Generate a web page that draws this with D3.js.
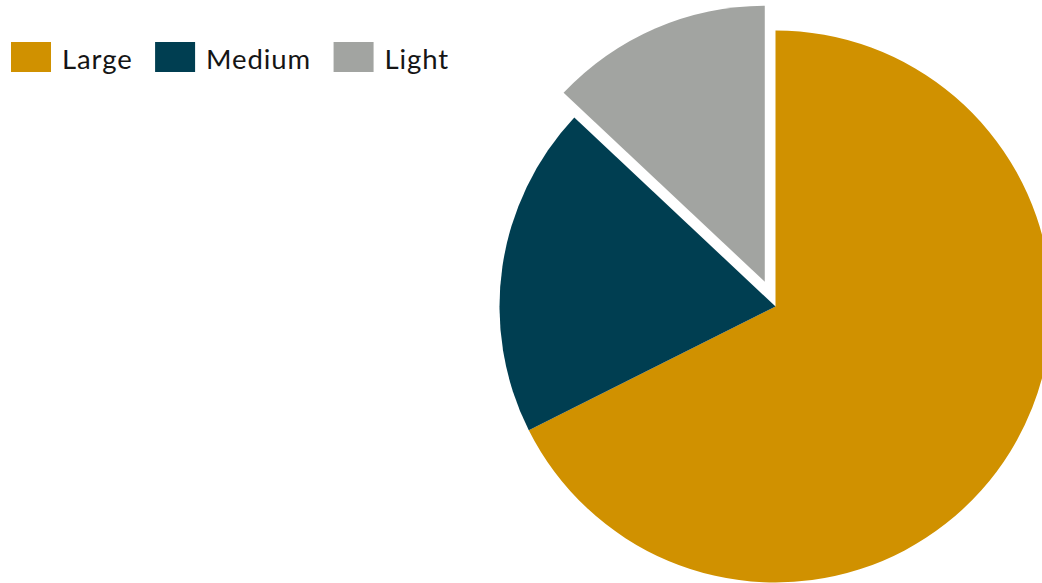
<!DOCTYPE html>
<html>
<head>
<meta charset="utf-8">
<script src="https://cdn.jsdelivr.net/npm/d3@7"></script>
<style>
  body { margin: 0; background: #fff; }
  svg { display: block; }
</style>
</head>
<body>
<div id="chart"></div>
<script>
// data
const categories = ["Large", "Medium", "Light"];
const shares = [67.6, 19.4, 13.0];
const colors = ["#D09100", "#003E51", "#A2A4A1"];
const exploded = [false, false, true];

const w = 1042, h = 583;
const cx = 775.5, cy = 306.5;
const outerRadius = 276;
const explodeBy = 27;

const svg = d3.select("#chart")
    .append("svg")
    .attr("width", w)
    .attr("height", h);

const data = categories.map((c, i) => ({ label: c, value: shares[i], color: colors[i], explode: exploded[i] }));

const pie = d3.pie().value(d => d.value).sort(null);
const arc = d3.arc().innerRadius(0).outerRadius(outerRadius);

svg.append("g")
    .attr("transform", "translate(" + cx + "," + cy + ")")
    .selectAll("path")
    .data(pie(data))
    .enter()
    .append("path")
    .attr("d", arc)
    .attr("fill", d => d.data.color)
    .attr("transform", d => {
        if (!d.data.explode) return null;
        const a = (d.startAngle + d.endAngle) / 2;
        return "translate(" + (explodeBy * Math.sin(a)) + "," + (-explodeBy * Math.cos(a)) + ")";
    });

// legend
const legend = svg.append("g").attr("transform", "translate(11,42)");
let x = 0;
data.forEach(d => {
    const g = legend.append("g").attr("transform", "translate(" + x + ",0)");
    g.append("rect")
        .attr("width", 40)
        .attr("height", 30)
        .attr("fill", d.color);
    const t = g.append("text")
        .attr("x", 51)
        .attr("y", 26.5)
        .style("font-family", "Lato, 'Noto Sans', sans-serif")
        .style("font-size", "27.5px")
        .style("letter-spacing", "0.9px")
        .style("fill", "#151515")
        .text(d.label);
    x += 51 + t.node().getComputedTextLength() + 22.5;
});
</script>
</body>
</html>
